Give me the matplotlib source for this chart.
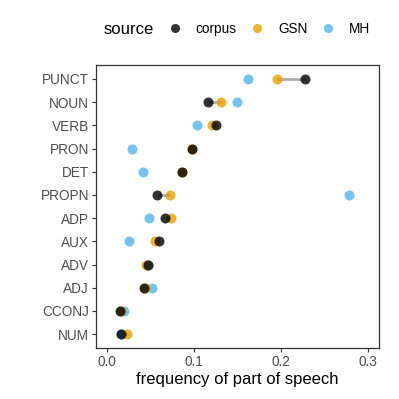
#!/usr/bin/env python3

import matplotlib
matplotlib.use('Agg')
import matplotlib.pyplot as plt
from matplotlib.lines import Line2D

plt.rcParams['font.family'] = ['Liberation Sans', 'DejaVu Sans']

# parts of speech, top to bottom
pos = ['PUNCT', 'NOUN', 'VERB', 'PRON', 'DET', 'PROPN',
       'ADP', 'AUX', 'ADV', 'ADJ', 'CCONJ', 'NUM']
corpus = [0.228, 0.116, 0.125, 0.098, 0.086, 0.057,
          0.066, 0.060, 0.047, 0.042, 0.015, 0.016]
gsn = [0.195, 0.131, 0.121, 0.098, 0.086, 0.072,
       0.073, 0.055, 0.045, 0.044, 0.016, 0.023]
mh = [0.162, 0.150, 0.103, 0.028, 0.041, 0.279,
      0.048, 0.025, 0.047, 0.052, 0.019, 0.016]

COLOURS = {'corpus': '#000000', 'GSN': '#E69F00', 'MH': '#56B4E9'}


def main():
    fig = plt.figure(figsize=(3.99, 3.99), dpi=100)
    ax = fig.add_axes([0.2406, 0.1278, 0.9491 - 0.2406, 0.837 - 0.1278])

    y = list(range(len(pos)))
    ax.hlines(y, corpus, gsn, color='#999999', lw=2.0, alpha=0.8, zorder=1)
    ax.scatter(mh, y, s=52, color=COLOURS['MH'], alpha=0.8, lw=0, zorder=2)
    ax.scatter(gsn, y, s=52, color=COLOURS['GSN'], alpha=0.8, lw=0, zorder=3)
    ax.scatter(corpus, y, s=52, color=COLOURS['corpus'], alpha=0.8, lw=0, zorder=4)

    ax.set_ylim(len(pos) - 0.4, -0.6)
    ax.set_xlim(-0.013, 0.3127)
    ax.set_yticks(y)
    ax.set_yticklabels(pos)
    ax.set_xticks([0.0, 0.1, 0.2, 0.3])
    ax.set_xticklabels(['0.0', '0.1', '0.2', '0.3'])
    ax.tick_params(colors='#333333', labelcolor='#4D4D4D', labelsize=9.8,
                   length=3, width=0.8, pad=2)
    for sp in ax.spines.values():
        sp.set_color('#333333')
        sp.set_linewidth(0.9)
    ax.set_xlabel('frequency of part of speech', fontsize=12, labelpad=2)

    handles = [Line2D([], [], ls='', marker='o', ms=6.5, mew=0,
                      color=c, alpha=0.8) for c in COLOURS.values()]
    fig.legend(handles, list(COLOURS.keys()), ncol=3, frameon=False,
               loc='center left', bbox_to_anchor=(168 / 399, 1 - 29 / 399),
               fontsize=9.8, handlelength=1.0, handletextpad=1.04,
               columnspacing=1.0, borderaxespad=0, borderpad=0)
    fig.text(104 / 399, 1 - 29 / 399, 'source', fontsize=12, va='center')

    fig.savefig('out.png', dpi=100)


if __name__ == '__main__':
    main()
